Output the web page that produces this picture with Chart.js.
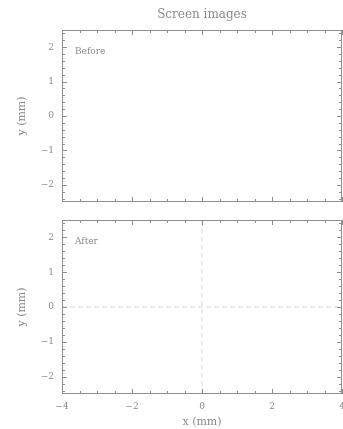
<!DOCTYPE html>
<html>
<head>
<meta charset="utf-8">
<script src="https://cdn.jsdelivr.net/npm/chart.js@4"></script>
<style>
html,body{margin:0;padding:0;background:#fff;width:343px;height:429px;overflow:hidden;}
canvas{position:absolute;left:0;}
#c1{top:0;}
#c2{top:212px;}
</style>
</head>
<body>
<canvas id="c1" width="343" height="210"></canvas>
<canvas id="c2" width="343" height="217"></canvas>
<script>
// ---- data ----
const chartTitle = 'Screen images';
const panelLabels = ['Before', 'After'];
const xRange = [-4, 4];
const yRange = [-2.5, 2.5];
const xMajorTicks = [-4, -2, 0, 2, 4];
const xMinorTicks = [-3.5, -3, -2.5, -1.5, -1, -0.5, 0.5, 1, 1.5, 2.5, 3, 3.5];
const yMajorTicks = [-2, -1, 0, 1, 2];
const yMinorTicks = [-2.4, -2.2, -1.8, -1.6, -1.4, -1.2, -0.8, -0.6, -0.4, -0.2,
                     0.2, 0.4, 0.6, 0.8, 1.2, 1.4, 1.6, 1.8, 2.2, 2.4];
// "After" panel reference cross-hair (dashed)
const crossH_x = [-4, 4];
const crossH_y = [0, 0];
const crossV_x = [0, 0];
const crossV_y = [-2.5, 2.5];

// ---- style ----
const FONT = "'DejaVu Serif', serif";
const TEXT = '#8a8a8a';
const AXIS = '#8f8f8f';
const fmt = v => (v < 0 ? '\u2212' + Math.abs(v) : String(v));

const frameTicks = {
  id: 'frameTicks',
  afterDatasetsDraw(chart, args, opts) {
    const {ctx, chartArea: a, scales: {x, y}} = chart;
    ctx.save();
    ctx.strokeStyle = AXIS;
    ctx.lineWidth = 1;
    ctx.strokeRect(Math.round(a.left) + 0.5, Math.round(a.top) + 0.5,
                   Math.round(a.right - a.left) - 1, Math.round(a.bottom - a.top) - 1);
    const tick = (vals, len) => {
      vals.forEach(v => {
        const px = Math.round(x.getPixelForValue(v)) + 0.5;
        ctx.beginPath();
        ctx.moveTo(px, a.bottom); ctx.lineTo(px, a.bottom - len);
        ctx.moveTo(px, a.top); ctx.lineTo(px, a.top + len);
        ctx.stroke();
      });
    };
    const tickY = (vals, len) => {
      vals.forEach(v => {
        const py = Math.round(y.getPixelForValue(v)) + 0.5;
        ctx.beginPath();
        ctx.moveTo(a.left, py); ctx.lineTo(a.left + len, py);
        ctx.moveTo(a.right, py); ctx.lineTo(a.right - len, py);
        ctx.stroke();
      });
    };
    tick(xMajorTicks, 5); tick(xMinorTicks, 3);
    tickY(yMajorTicks, 5); tickY(yMinorTicks, 3);
    // panel label
    ctx.fillStyle = TEXT;
    ctx.font = "9px " + FONT;
    ctx.textAlign = 'left';
    ctx.textBaseline = 'middle';
    ctx.fillText(opts.label, a.left + 13, y.getPixelForValue(2) + 4);
    ctx.restore();
  }
};

function yScale() {
  return {
    type: 'linear', min: yRange[0], max: yRange[1],
    grid: {display: false, drawTicks: false},
    border: {display: false},
    afterBuildTicks: s => { s.ticks = yMajorTicks.map(v => ({value: v})); },
    afterFit: s => { s.width = 62; s.paddingTop = 0; s.paddingBottom = 0; },
    ticks: {color: TEXT, font: {family: FONT, size: 9}, padding: 8, callback: v => fmt(v)},
    title: {display: true, text: 'y (mm)', color: TEXT, font: {family: FONT, size: 11}, padding: {top: 16, bottom: 0}}
  };
}

function makeChart(id, label, showX, withCross) {
  const datasets = [];
  if (withCross) {
    const dashed = {showLine: true, pointRadius: 0, borderColor: '#d6d6d6', borderWidth: 1, borderDash: [5, 3]};
    datasets.push(Object.assign({data: crossH_x.map((v, i) => ({x: v, y: crossH_y[i]}))}, dashed));
    datasets.push(Object.assign({data: crossV_x.map((v, i) => ({x: v, y: crossV_y[i]}))}, dashed));
  }
  const xs = showX ? {
    type: 'linear', min: xRange[0], max: xRange[1],
    grid: {display: false, drawTicks: false},
    border: {display: false},
    afterBuildTicks: s => { s.ticks = xMajorTicks.map(v => ({value: v})); },
    afterFit: s => { s.height = 35; s.paddingLeft = 0; s.paddingRight = 0; },
    ticks: {color: TEXT, font: {family: FONT, size: 9}, padding: 7, maxRotation: 0, autoSkip: false, callback: v => fmt(v)},
    title: {display: true, text: 'x (mm)', color: TEXT, font: {family: FONT, size: 11}, padding: {top: 0, bottom: 0}}
  } : {type: 'linear', min: xRange[0], max: xRange[1], display: false};
  return new Chart(document.getElementById(id), {
    type: 'scatter',
    data: {datasets},
    options: {
      responsive: false, animation: false,
      layout: {padding: showX ? {top: 8, right: 1, left: 0, bottom: 0} : {top: 0, right: 1, left: 0, bottom: 8}},
      plugins: {
        legend: {display: false}, tooltip: {enabled: false},
        title: showX ? {display: false} : {display: true, fullSize: false, text: chartTitle, color: TEXT,
          font: {family: FONT, size: 12, weight: 'normal'}, padding: {top: 7.5, bottom: 8.1}},
        frameTicks: {label}
      },
      scales: {x: xs, y: yScale()}
    },
    plugins: [frameTicks]
  });
}

makeChart('c1', panelLabels[0], false, false);
makeChart('c2', panelLabels[1], true, true);
</script>
</body>
</html>
